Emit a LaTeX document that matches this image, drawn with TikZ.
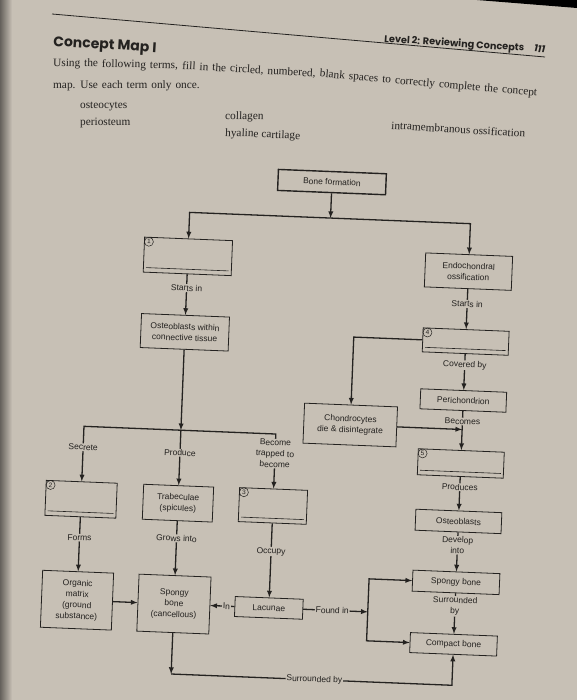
\documentclass[tikz,border=0pt]{standalone}
\usepackage{fontspec}
\setmainfont{Liberation Serif}
\setsansfont{Liberation Sans}
\newfontfamily\headfont{Poppins}
\usetikzlibrary{arrows}
\definecolor{paper}{RGB}{199,192,181}
\definecolor{ink}{RGB}{36,34,32}
\newcommand{\widespace}{\spaceskip 4pt\relax}

\begin{document}
\begin{tikzpicture}[x=1pt,y=-1pt,
    box/.style={draw=ink,line width=0.8pt,text=ink,align=center,inner sep=1pt,
        font=\sffamily\fontsize{8.5}{11}\selectfont},
    numc/.style={circle,draw=ink,line width=0.5pt,inner sep=0pt,minimum size=9pt,
        text=ink,font=\sffamily\fontsize{6.5}{6.5}\selectfont},
    conn/.style={draw=ink,line width=1.3pt,-latex},
    lbl/.style={fill=paper,text=ink,inner sep=0.8pt,align=center,
        font=\sffamily\fontsize{8.5}{11}\selectfont},
    prose/.style={anchor=base west,inner sep=0pt,text=ink,font=\fontsize{11.3}{12}\selectfont}]

  % the page
  \fill[paper] (0,0) rectangle (577,700);
  \useasboundingbox (0,0) rectangle (577,700);
  \shade[left color=ink!60!paper,right color=paper] (0,0) rectangle (12,700);
  \fill[black] (477,0) -- (577,0) -- (577,8) -- cycle;

  % heading
  \draw[ink,line width=0.8pt] (52,14) -- (545,57);
  \node[prose,rotate=-3.5,font=\headfont\bfseries\fontsize{14}{16}\selectfont] (title) at (53,46) {Concept Map I};
  \node[prose,rotate=-3.8,font=\headfont\bfseries\fontsize{9.7}{11}\selectfont] (level) at (384,42) {Level 2: Reviewing Concepts\hspace{10pt}{\itshape 111}};

  % instructions (the page bends, so the line is set in three pieces)
  \node[prose,rotate=-1.4] (instr) at (53,66) {\widespace Using the following terms,};
  \node[prose,rotate=-3.4] (instrc) at ([xshift=4pt]instr.base east) {\widespace fill in the circled, numbered,};
  \node[prose,rotate=-5] (instrd) at ([xshift=4pt]instrc.base east) {\widespace blank spaces to correctly complete the concept};
  \node[prose] (instrb) at (53,89) {\widespace map. Use each term only once.};
  % the terms
  \node[prose] (t1) at (80,109) {osteocytes};
  \node[prose] (t2) at (80,126) {periosteum};
  \node[prose,rotate=-1.5] (t3) at (225,119) {collagen};
  \node[prose,rotate=-2.5] (t4) at (225,136) {hyaline cartilage};
  \node[prose,rotate=-3.5] (t5) at (391,129) {intramembranous ossification};

  \begin{scope}[rotate around={-2.3:(300,430)},transform shape]
    \coordinate (split1) at (322,217);
    \coordinate (split2) at (181,435);
    \coordinate (bot) at (0,679);
    \coordinate (found) at (375,609);

    \node[box,line width=1.4pt,minimum width=108pt,minimum height=21pt] (bone) at (322,181) {Bone formation};

    % the five blanks
    \foreach \n/\x/\y/\w/\h in {1/181/261/88/35, 2/84/508/71/35, 3/276/507/68/34, 4/462/335/86/24, 5/462/457/86/26}{
      \node[box,minimum width=\w pt,minimum height=\h pt] (blank\n) at (\x,\y) {};
      \node[numc,anchor=north west] (num\n) at ([shift={(1.5,1.5)}]blank\n.north west) {\n};
      \draw[ink,line width=0.6pt] ([shift={(3,-5)}]blank\n.south west) -- ([shift={(-3,-5)}]blank\n.south east);
    }

    \node[box,minimum width=88pt,minimum height=34pt] (ostwct) at (181,337) {Osteoblasts within\\connective tissue};
    \node[box,minimum width=70pt,minimum height=35pt] (trab) at (181,508) {Trabeculae\\(spicules)};
    \node[box,minimum width=71pt,minimum height=57pt] (organic) at (84,609) {Organic\\matrix\\(ground\\substance)};
    \node[box,minimum width=72pt,minimum height=57pt] (spongyL) at (181,609) {Spongy\\bone\\(cancellous)};
    \node[box,minimum width=68pt,minimum height=20pt] (lacunae) at (276,609) {Lacunae};

    \node[box,minimum width=87pt,minimum height=34pt] (endo) at (462,265) {Endochondral\\ossification};
    \node[box,minimum width=93pt,minimum height=40pt] (chondro) at (350,423) {Chondrocytes\\die \& disintegrate};
    \node[box,minimum width=86pt,minimum height=20pt] (peri) at (462,394) {Perichondrion};
    \node[box,minimum width=86pt,minimum height=21pt] (osteo) at (462,515) {Osteoblasts};
    \node[box,minimum width=87pt,minimum height=21pt] (spongyR) at (462,576) {Spongy bone};
    \node[box,minimum width=87pt,minimum height=20pt] (compact) at (462,638) {Compact bone};

    % top split
    \draw[conn] (bone) -- (split1);
    \draw[conn] (split1) -| (blank1);
    \draw[conn] (split1) -| (endo);

    % left side
    \draw[conn] (blank1) -- node[lbl,pos=0.34]{Starts in} (ostwct);
    \draw[conn] (ostwct) -- (split2);
    \draw[conn] (split2) -| node[lbl,pos=0.69]{Secrete} (blank2);
    \draw[conn] (split2) -- node[lbl,pos=0.41]{Produce} (trab);
    \draw[conn] (split2) -| node[lbl,pos=0.68]{Become\\trapped to\\become} (blank3);
    \draw[conn] (blank2) -- node[lbl,pos=0.38]{Forms} (organic);
    \draw[conn] (trab) -- node[lbl,pos=0.32]{Grows into} (spongyL);
    \draw[conn] (blank3) -- node[lbl,pos=0.38]{Occupy} (lacunae);
    \draw[conn] (organic) -- (spongyL);
    \draw[conn] (lacunae) -- node[lbl,pos=0.33]{In} (spongyL);

    % right side
    \draw[conn] (endo) -- node[lbl,pos=0.37]{Starts in} (blank4);
    \draw[conn] (blank4.west) -| (chondro);
    \draw[conn] (blank4) -- node[lbl,pos=0.31]{Covered by} (peri);
    \draw[conn] (peri) -- node[lbl,pos=0.27]{Becomes} (blank5);
    \draw[conn] (chondro) -- (chondro -| blank5);
    \draw[conn] (blank5) -- node[lbl,pos=0.31]{Produces} (osteo);
    \draw[conn] (osteo) -- node[lbl,pos=0.33]{Develop\\into} (spongyR);
    \draw[conn] (spongyR) -- node[lbl,pos=0.32]{Surrounded\\by} (compact);

    % bottom
    \draw[conn] (lacunae) -- node[lbl,pos=0.45]{Found in} (found);
    \draw[conn] (found) |- (spongyR);
    \draw[conn] (found) |- (compact);
    \draw[conn] (spongyL) -- (spongyL |- bot);
    \draw[conn] (spongyL |- bot) -- node[lbl,pos=0.51]{Surrounded by} (compact |- bot) -- (compact);
  \end{scope}
\end{tikzpicture}
\end{document}
